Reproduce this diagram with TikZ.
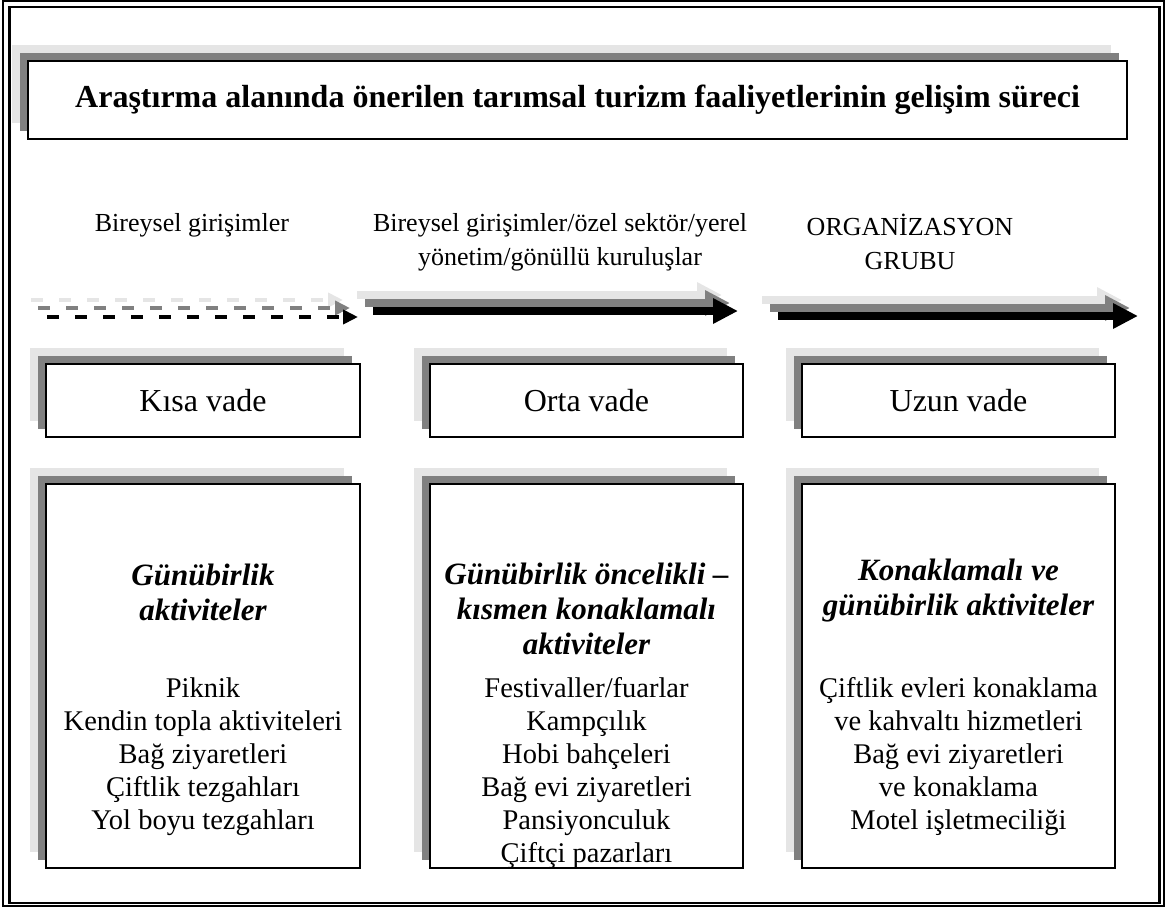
\documentclass[tikz,border=0pt]{standalone}
\usepackage{fontspec}
\setmainfont{Liberation Serif}
\usetikzlibrary{arrows.meta,shadows}
\definecolor{shlight}{RGB}{229,229,229}
\definecolor{shdark}{RGB}{128,128,128}
\begin{document}
\begin{tikzpicture}[x=1pt,y=-1pt,
  shbox/.style={draw=black, line width=1.6pt, fill=white, inner sep=0pt, minimum width=#1,
     general shadow={fill=shlight, shadow xshift=-16pt, shadow yshift=16pt},
     general shadow={fill=shdark, shadow xshift=-8pt, shadow yshift=8pt}},
  dasharrow/.style={line width=4pt, dash pattern=on 12pt off 16pt, -{Triangle[length=15pt,width=14pt]}},
  solidarrow/.style={line width=8pt, -{Triangle[length=25pt,width=24pt]}},
  lbl/.style={font=\fontsize{26}{34}\selectfont, align=center, inner sep=0pt},
  hd/.style={font=\fontsize{31}{35}\selectfont\bfseries\itshape, align=center, inner sep=0pt},
  items/.style={font=\fontsize{28.5}{33}\selectfont, align=center, inner sep=0pt},
  period/.style={font=\fontsize{32}{38}\selectfont}
]
\useasboundingbox (0,0) rectangle (1166,908);
% frame
\draw[line width=2pt] (2.5,1.2) rectangle (1164.3,905.5);
\draw[line width=2.5pt] (9.5,7) rectangle (1159.5,903);

% title
\node[shbox=1099pt, minimum height=78pt, font=\fontsize{32}{38}\selectfont\bfseries] (title) at (577.5,100)
  {Araştırma alanında önerilen tarımsal turizm faaliyetlerinin gelişim süreci};

% labels
\node[lbl] (l1) at (192,225) {Bireysel girişimler};
\node[lbl] (l2) at (560,242) {Bireysel girişimler/özel sektör/yerel\\yönetim/gönüllü kuruluşlar};
\node[lbl] (l3) at (910,242) {ORGANİZASYON\\GRUBU};

% arrows
\coordinate (a1ls) at (31,300); \coordinate (a1le) at (343,300);
\coordinate (a1ds) at (38,308); \coordinate (a1de) at (350,308);
\coordinate (a1bs) at (47,317); \coordinate (a1be) at (358,317);
\draw[dasharrow, shlight] (a1ls) -- (a1le);
\draw[dasharrow, shdark] (a1ds) -- (a1de);
\draw[dasharrow, black] (a1bs) -- (a1be);

\coordinate (a2ls) at (357,295); \coordinate (a2le) at (722,295);
\coordinate (a2ds) at (365,303); \coordinate (a2de) at (730,303);
\coordinate (a2bs) at (373,311); \coordinate (a2be) at (738,311);
\draw[solidarrow, shlight] (a2ls) -- (a2le);
\draw[solidarrow, shdark] (a2ds) -- (a2de);
\draw[solidarrow, black] (a2bs) -- (a2be);

\coordinate (a3ls) at (762,300); \coordinate (a3le) at (1122,300);
\coordinate (a3ds) at (770,308); \coordinate (a3de) at (1130,308);
\coordinate (a3bs) at (778,316); \coordinate (a3be) at (1138,316);
\draw[solidarrow, shlight] (a3ls) -- (a3le);
\draw[solidarrow, shdark] (a3ds) -- (a3de);
\draw[solidarrow, black] (a3bs) -- (a3be);

% period boxes
\node[shbox=314pt, minimum height=73pt, period] (kisa) at (203,400.5) {Kısa vade};
\node[shbox=313pt, minimum height=73pt, period] (orta) at (586.5,400.5) {Orta vade};
\node[shbox=313pt, minimum height=73pt, period] (uzun) at (958.5,400.5) {Uzun vade};

% big boxes
\node[shbox=314pt, minimum height=384pt] (kisabig) at (203,676) {};
\node[shbox=313pt, minimum height=384pt] (ortabig) at (586.5,676) {};
\node[shbox=313pt, minimum height=384pt] (uzunbig) at (958.5,676) {};

\node[hd] (kisahd) at (203,592) {Günübirlik\\aktiviteler};
\node[items] (kisait) at (203,756.5) {Piknik\\Kendin topla aktiviteleri\\Bağ ziyaretleri\\Çiftlik tezgahları\\Yol boyu tezgahları};

\node[hd] (ortahd) at (586.5,609) {Günübirlik öncelikli –\\kısmen konaklamalı\\aktiviteler};
\node[items] (ortait) at (586.5,773) {Festivaller/fuarlar\\Kampçılık\\Hobi bahçeleri\\Bağ evi ziyaretleri\\Pansiyonculuk\\Çiftçi pazarları};

\node[hd] (uzunhd) at (958.5,591) {Konaklamalı ve\\günübirlik aktiviteler};
\node[items] (uzunit) at (958.5,756.5) {Çiftlik evleri konaklama\\ve kahvaltı hizmetleri\\Bağ evi ziyaretleri\\ve konaklama\\Motel işletmeciliği};
\end{tikzpicture}
\end{document}
